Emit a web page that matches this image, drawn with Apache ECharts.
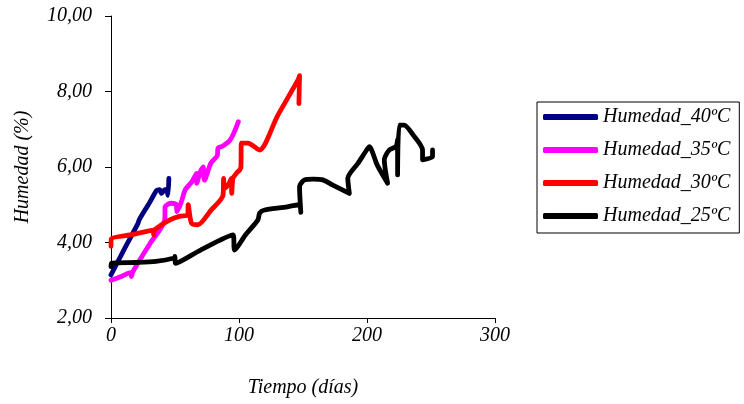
<!DOCTYPE html>
<html>
<head>
<meta charset="utf-8">
<script src="https://cdn.jsdelivr.net/npm/echarts@6/dist/echarts.min.js"></script>
<style>html,body{margin:0;padding:0;background:#fff;}#c{width:744px;height:404px;}</style>
</head>
<body>
<div id="c"></div>
<script>
var seriesNames = ['Humedad_40ºC', 'Humedad_35ºC', 'Humedad_30ºC', 'Humedad_25ºC'];
var xTicks = [0, 100, 200, 300];
var yTicks = [2, 4, 6, 8, 10];

var x40 = [0, 10, 21, 22, 30, 35.6, 38, 39.5, 42, 43.5, 44.5, 45.2];
var y40 = [3.14, 3.8, 4.5, 4.6, 5.05, 5.38, 5.4, 5.3, 5.4, 5.4, 5.25, 5.7];

var x35 = [0, 8, 15, 16, 17, 30, 42, 42.3, 47, 51, 51.5, 55, 58, 63, 66.8, 67, 70, 72, 73, 78, 83, 83.6, 87, 92.7, 96, 99.5];
var y35 = [3.0, 3.1, 3.2, 3.1, 3.22, 3.95, 4.6, 4.95, 5.04, 5.0, 4.82, 5.08, 5.4, 5.6, 5.83, 5.57, 5.9, 6.0, 5.65, 6.1, 6.3, 6.5, 6.55, 6.7, 6.9, 7.2];

var x30 = [0, 0.3, 15, 33, 33.3, 34, 46, 54, 60, 60.3, 62.9, 68, 78, 87.5, 88, 88.8, 92, 94, 94.3, 95.3, 97.9, 100.5, 101.5, 101.8, 107, 116, 130, 146, 147.3, 146.8];
var y30 = [3.9, 4.1, 4.2, 4.33, 4.2, 4.33, 4.6, 4.7, 4.73, 5.0, 4.51, 4.47, 4.85, 5.25, 5.7, 5.44, 5.55, 5.7, 5.3, 5.7, 5.83, 5.92, 6.0, 6.63, 6.63, 6.45, 7.35, 8.3, 8.42, 7.68];

var x25 = [0, 0.3, 20, 35, 49.5, 49.9, 50.5, 70, 95.3, 96.6, 105, 114.8, 116.1, 120, 135, 147, 148.3, 147.3, 151.2, 158, 165.5, 173.3, 186.2, 185, 193, 200.5, 201.8, 208, 216.1, 213.5, 217.4, 222.6, 223.9, 223.9, 225.2, 229, 236, 243.4, 243.4, 251.2, 251.2];
var y25 = [3.36, 3.45, 3.47, 3.5, 3.59, 3.63, 3.45, 3.8, 4.2, 3.8, 4.2, 4.6, 4.78, 4.86, 4.93, 5.0, 4.8, 5.48, 5.66, 5.68, 5.66, 5.52, 5.3, 5.7, 6.1, 6.49, 6.54, 6.05, 5.57, 6.19, 6.45, 6.54, 6.72, 5.79, 7.11, 7.11, 6.85, 6.45, 6.19, 6.27, 6.45];

var colors = ['#000080', '#FF00FF', '#FF0000', '#000000'];

function pairs(xs, ys) { return xs.map(function (x, i) { return [x, ys[i]]; }); }
var allX = [x40, x35, x30, x25];
var allY = [y40, y35, y30, y25];

var FONT = 'Liberation Serif';
var chart = echarts.init(document.getElementById('c'), null, {renderer: 'canvas'});
var series = seriesNames.map(function (n, i) {
  return {
    name: n, type: 'line', data: pairs(allX[i], allY[i]),
    showSymbol: false, symbol: 'none', smooth: 0.25,
    lineStyle: {color: colors[i], width: 4.8, cap: 'round', join: 'round'},
    itemStyle: {color: colors[i]},
    animation: false
  };
});

chart.setOption({
  backgroundColor: '#fff',
  animation: false,
  grid: {left: 111, top: 16, right: 249, bottom: 86, containLabel: false},
  legend: {
    orient: 'vertical', left: 537, top: 102,
    padding: [4, 9, 6, 6], itemGap: 11, itemTextGap: 4,
    itemWidth: 55, itemHeight: 6, icon: 'roundRect',
    borderColor: '#000', borderWidth: 1,
    textStyle: {fontFamily: FONT, fontStyle: 'italic', fontSize: 20, color: '#000', lineHeight: 22},
    data: seriesNames
  },
  xAxis: {
    type: 'value', min: xTicks[0], max: xTicks[xTicks.length - 1], interval: 100,
    name: 'Tiempo (días)', nameLocation: 'middle', nameGap: 60,
    nameTextStyle: {fontFamily: FONT, fontStyle: 'italic', fontSize: 20, color: '#000'},
    axisLine: {show: true, onZero: false, lineStyle: {color: '#000', width: 1}},
    axisTick: {show: true, length: 5, lineStyle: {color: '#000'}},
    axisLabel: {margin: 8, fontFamily: FONT, fontStyle: 'italic', fontSize: 20, color: '#000'},
    splitLine: {show: false}
  },
  yAxis: {
    type: 'value', min: yTicks[0], max: yTicks[yTicks.length - 1], interval: 2,
    name: 'Humedad (%)', nameLocation: 'middle', nameGap: 78,
    nameTextStyle: {fontFamily: FONT, fontStyle: 'italic', fontSize: 20, color: '#000'},
    axisLine: {show: true, onZero: false, lineStyle: {color: '#000', width: 1}},
    axisTick: {show: true, length: 6, lineStyle: {color: '#000'}},
    axisLabel: {margin: 19, fontFamily: FONT, fontStyle: 'italic', fontSize: 20, color: '#000',
      formatter: function (v) { return v.toFixed(2).replace('.', ','); }},
    splitLine: {show: false}
  },
  series: series
});
</script>
</body>
</html>
